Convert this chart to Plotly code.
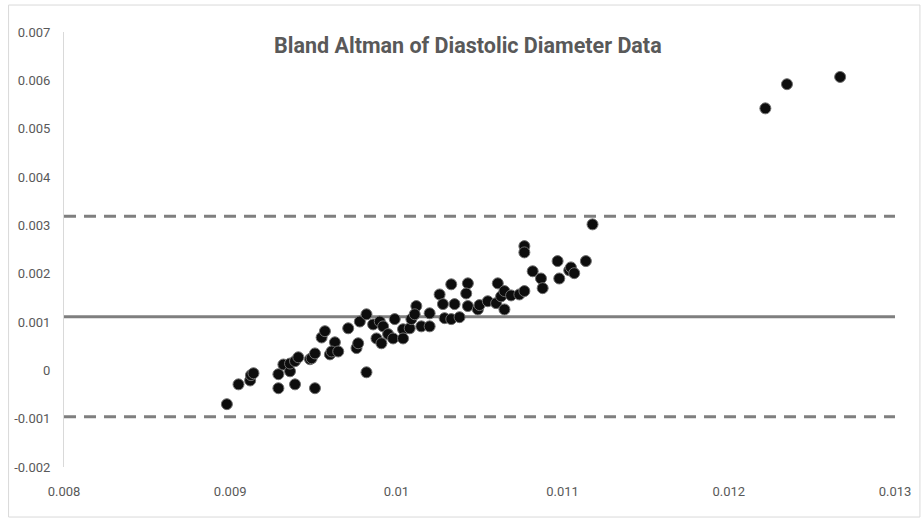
import plotly.graph_objects as go

# Bland-Altman data: mean of the two measurements vs. their difference
mean_vals = [
    0.00898, 0.00905, 0.00912, 0.009125, 0.00914, 0.00929, 0.00929, 0.00932, 0.00936, 0.00936,
    0.00939, 0.00939, 0.00941, 0.00948, 0.00949, 0.00951, 0.00951, 0.00955, 0.00957, 0.00960,
    0.00963, 0.00961, 0.00965, 0.00971, 0.00976, 0.00977, 0.00978, 0.00982, 0.00982, 0.00986,
    0.00988, 0.00990, 0.00991, 0.00992, 0.00995, 0.00998, 0.00999, 0.01004, 0.01004, 0.01008,
    0.01009, 0.01012, 0.01011, 0.01015, 0.01020, 0.01020, 0.01026, 0.01028, 0.01029, 0.01033,
    0.01033, 0.01035, 0.01038, 0.01043, 0.01042, 0.01043, 0.01049, 0.01050, 0.01055, 0.01060,
    0.01061, 0.01063, 0.01065, 0.01065, 0.01069, 0.01074, 0.01077, 0.01077, 0.01077, 0.01082,
    0.01087, 0.01088, 0.01097, 0.01098, 0.01104, 0.01105, 0.01107, 0.01114, 0.01118, 0.01222,
    0.01235, 0.01267,
]
diff_vals = [
    -0.00070, -0.00029, -0.00021, -0.00010, -0.00006, -0.00008, -0.00037, 0.00012, -0.00002, 0.00014,
    -0.00029, 0.00019, 0.00027, 0.00023, 0.00025, 0.00035, -0.00037, 0.00068, 0.00081, 0.00033,
    0.00058, 0.00039, 0.00039, 0.00087, 0.00046, 0.00056, 0.00101, 0.00116, -0.00004, 0.00095,
    0.00066, 0.00101, 0.00056, 0.00091, 0.00075, 0.00066, 0.00106, 0.00085, 0.00066, 0.00087,
    0.00106, 0.00133, 0.00116, 0.00091, 0.00118, 0.00091, 0.00157, 0.00137, 0.00108, 0.00178,
    0.00106, 0.00137, 0.00110, 0.00180, 0.00159, 0.00133, 0.00126, 0.00135, 0.00143, 0.00139,
    0.00180, 0.00153, 0.00164, 0.00126, 0.00155, 0.00157, 0.00164, 0.00257, 0.00244, 0.00205,
    0.00190, 0.00170, 0.00226, 0.00190, 0.00207, 0.00213, 0.00201, 0.00226, 0.00302, 0.00542,
    0.00592, 0.00607,
]

# Bias and limits of agreement
bias = 0.00111
upper_loa = 0.00319
lower_loa = -0.00096
line_span = [0.008, 0.013]

x_ticks = [0.008, 0.009, 0.010, 0.011, 0.012, 0.013]
x_tick_text = ["0.008", "0.009", "0.01", "0.011", "0.012", "0.013"]
y_ticks = [-0.002, -0.001, 0.0, 0.001, 0.002, 0.003, 0.004, 0.005, 0.006, 0.007]
y_tick_text = ["-0.002", "-0.001", "0", "0.001", "0.002", "0.003", "0.004", "0.005", "0.006", "0.007"]

FONT = "Roboto, Open Sans, sans-serif"
TEXT_GREY = "#595959"
LINE_GREY = "#7f7f7f"

fig = go.Figure()

for level, dash in [(upper_loa, "12px,8px"), (lower_loa, "12px,8px"), (bias, "solid")]:
    fig.add_trace(go.Scatter(
        x=line_span, y=[level, level], mode="lines",
        line=dict(color=LINE_GREY, width=3, dash=dash),
        hoverinfo="skip", showlegend=False,
    ))

fig.add_trace(go.Scatter(
    x=mean_vals, y=diff_vals, mode="markers",
    marker=dict(size=11, color="#0d0d0d", line=dict(color="#6e6e6e", width=1)),
    showlegend=False,
))

fig.update_layout(
    width=923, height=519,
    margin=dict(l=64, r=19, t=32, b=52),
    paper_bgcolor="white", plot_bgcolor="white",
    font=dict(family=FONT, color=TEXT_GREY, size=13),
    title=dict(
        text="<b>Bland Altman of Diastolic Diameter Data</b>",
        x=0.486, xanchor="center", xref="paper",
        y=0.912, yanchor="middle", yref="container",
        font=dict(family=FONT, size=21.5, color=TEXT_GREY),
    ),
    xaxis=dict(
        range=[0.008, 0.013], tickvals=x_ticks, ticktext=x_tick_text,
        showgrid=False, zeroline=False, showline=False, ticks="",
        ticklabelstandoff=15, tickfont=dict(size=13, color=TEXT_GREY),
    ),
    yaxis=dict(
        range=[-0.002, 0.007], tickvals=y_ticks, ticktext=y_tick_text,
        showgrid=False, zeroline=False, showline=True, linecolor="#d9d9d9", linewidth=1,
        ticks="", ticklabelstandoff=10, tickfont=dict(size=13, color=TEXT_GREY),
    ),
    shapes=[dict(
        type="rect", xref="paper", yref="paper",
        x0=-0.0667, x1=1.03, y0=-0.115, y1=1.062,
        line=dict(color="#d9d9d9", width=1), layer="below",
    )],
)

fig.write_html("out.html")
